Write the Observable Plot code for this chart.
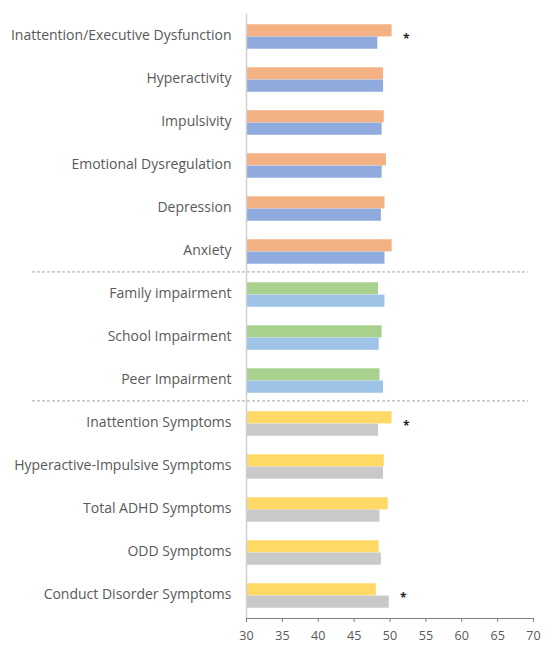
<!DOCTYPE html>
<html>
<head>
<meta charset="utf-8">
<script src="https://cdn.jsdelivr.net/npm/d3@7"></script>
<script src="https://cdn.jsdelivr.net/npm/@observablehq/plot@0.6"></script>
<style>
  html, body { margin: 0; padding: 0; background: #fff; }
  #chart { width: 555px; height: 653px; }
</style>
</head>
<body>
<div id="chart"></div>
<script>
const categories = [
  "Inattention/Executive Dysfunction",
  "Hyperactivity",
  "Impulsivity",
  "Emotional Dysregulation",
  "Depression",
  "Anxiety",
  "Family impairment",
  "School Impairment",
  "Peer Impairment",
  "Inattention Symptoms",
  "Hyperactive-Impulsive Symptoms",
  "Total ADHD Symptoms",
  "ODD Symptoms",
  "Conduct Disorder Symptoms"
];
const topValues    = [50.3, 49.1, 49.2, 49.5, 49.3, 50.3, 48.4, 48.9, 48.6, 50.3, 49.2, 49.75, 48.5, 48.1];
const bottomValues = [48.3, 49.1, 48.9, 48.9, 48.8, 49.3, 49.3, 48.5, 49.1, 48.4, 49.1, 48.6, 48.8, 49.9];
const groups = [0, 0, 0, 0, 0, 0, 1, 1, 1, 2, 2, 2, 2, 2];
const topColors = ["#F4B183", "#A9D18E", "#FFD966"];
const bottomColors = ["#8FAADC", "#9DC3E6", "#C9C9C9"];
const significant = ["Inattention/Executive Dysfunction", "Inattention Symptoms", "Conduct Disorder Symptoms"];
const separators = ["Family impairment", "Inattention Symptoms"];
const xTicks = [30, 35, 40, 45, 50, 55, 60, 65, 70];

const W = 555, H = 653;
const mTop = 14, mBottom = 35, mLeft = 246, mRight = 22;
const band = (H - mTop - mBottom) / categories.length;
const barH = 12.3;
const outer = band / 2 - barH;

const topRows = categories.map((c, i) => ({category: c, value: topValues[i], fill: topColors[groups[i]]}));
const bottomRows = categories.map((c, i) => ({category: c, value: bottomValues[i], fill: bottomColors[groups[i]]}));
const starRows = categories.map((c, i) => ({category: c, value: Math.max(topValues[i], bottomValues[i])}))
  .filter(d => significant.includes(d.category));

const plot = Plot.plot({
  width: W,
  height: H,
  marginTop: mTop,
  marginBottom: mBottom,
  marginLeft: mLeft,
  marginRight: mRight,
  style: {fontFamily: "'Open Sans', sans-serif", background: "#fff", color: "#595959"},
  x: {domain: [30, 70], ticks: xTicks, label: null},
  y: {domain: categories, padding: 0, label: null},
  color: {type: "identity"},
  marks: [
    Plot.barX(topRows, {y: "category", x1: 30, x2: "value", fill: "fill", insetTop: outer, insetBottom: band - outer - barH}),
    Plot.barX(bottomRows, {y: "category", x1: 30, x2: "value", fill: "fill", insetTop: band - outer - barH, insetBottom: outer}),
    Plot.ruleY(separators, {y: d => d, dy: -band / 2 - 1.5, stroke: "#a6a6a6", strokeDasharray: "3,2", strokeWidth: 1, insetLeft: -214, insetRight: 5}),
    Plot.text(starRows, {y: "category", x: "value", dx: 14, dy: 2, text: () => "*", fontSize: 12, fontWeight: "bold", fill: "#262626"}),
    Plot.frame({anchor: "left", stroke: "#d0d0d0", strokeWidth: 1.5}),
    Plot.frame({anchor: "bottom", stroke: "#7f7f7f"}),
    Plot.axisX({ticks: xTicks, tickSize: 4, tickPadding: 9, fontSize: 12.5, stroke: "#7f7f7f", fill: "#595959", label: null}),
    Plot.axisY({tickSize: 0, tickPadding: 15, dy: -1, fontSize: 14, fill: "#595959", label: null})
  ]
});
document.getElementById("chart").append(plot);
</script>
</body>
</html>
